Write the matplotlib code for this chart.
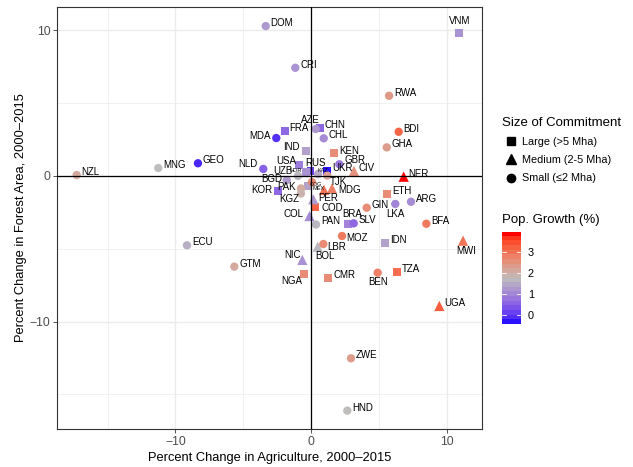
import numpy as np
import matplotlib
matplotlib.use("Agg")
import matplotlib.pyplot as plt
from matplotlib.colors import ListedColormap, Normalize
from matplotlib.lines import Line2D

plt.rcParams['font.family'] = ['Liberation Sans', 'DejaVu Sans']

# values
countries = ['DOM', 'CRI', 'VNM', 'RWA', 'BDI', 'GHA', 'NER', 'FRA', 'AZE', 'CHN',
             'MDA', 'CHL', 'IND', 'KEN', 'GBR', 'CIV', 'USA', 'RUS', 'UKR', 'NLD',
             'UZB', 'BGD', 'KOR', 'PAK', 'KGZ', 'PER', 'COD', 'TJK', 'MDG', 'COL',
             'PAN', 'BRA', 'SLV', 'GIN', 'LKA', 'ARG', 'ETH', 'BFA', 'MWI', 'IDN',
             'MOZ', 'LBR', 'BOL', 'NIC', 'NGA', 'CMR', 'BEN', 'TZA', 'UGA', 'GTM',
             'ECU', 'NZL', 'MNG', 'GEO', 'ZWE', 'HND', 'NOR', 'KAZ', 'COG', 'MEX', '']
agri_change = [-3.34, -1.16, 10.94, 5.76, 6.47, 5.59, 6.84, -1.94, 0.35, 0.64,
               -2.56, 0.94, -0.37, 1.72, 2.09, 3.17, -0.89, -0.04, 1.20, -3.52,
               -0.96, -1.79, -2.41, -0.74, -0.74, 0.17, 0.30, 1.20, 1.55, -0.11,
               0.37, 2.75, 3.15, 4.11, 6.22, 7.38, 5.59, 8.51, 11.22, 5.44,
               2.29, 0.91, 0.49, -0.64, -0.52, 1.28, 4.92, 6.35, 9.47, -5.66,
               -9.15, -17.29, -11.27, -8.34, 2.95, 2.68, -0.37, 0.52, 0.07, -0.22, 0.96]
forest_change = [10.27, 7.41, 9.81, 5.49, 3.02, 1.95, -0.06, 3.09, 3.21, 3.30,
                 2.59, 2.57, 1.72, 1.54, 0.79, 0.33, 0.72, 0.33, 0.33, 0.47,
                 -0.01, -0.29, -1.02, -0.87, -1.21, -1.61, -2.12, 0.02, -0.86, -2.76,
                 -3.34, -3.31, -3.26, -2.19, -1.93, -1.78, -1.23, -3.29, -4.45, -4.63,
                 -4.13, -4.68, -4.86, -5.77, -6.76, -6.99, -6.65, -6.60, -8.93, -6.23,
                 -4.77, 0.05, 0.53, 0.86, -12.52, -16.11, 0.26, 0.12, -0.43, -0.70, -0.97]
commitment = ['Small', 'Small', 'Large', 'Small', 'Small', 'Small', 'Medium', 'Large', 'Small', 'Large',
              'Small', 'Small', 'Large', 'Large', 'Small', 'Medium', 'Large', 'Large', 'Large', 'Small',
              'Small', 'Small', 'Large', 'Small', 'Small', 'Medium', 'Large', 'Small', 'Medium', 'Medium',
              'Small', 'Large', 'Small', 'Small', 'Small', 'Small', 'Large', 'Small', 'Medium', 'Large',
              'Small', 'Small', 'Medium', 'Medium', 'Large', 'Large', 'Small', 'Large', 'Medium', 'Small',
              'Small', 'Small', 'Small', 'Small', 'Small', 'Small', 'Large', 'Small', 'Small', 'Large', 'Medium']
pop_growth = [1.2, 1.1, 1.1, 2.4, 3.2, 2.3, 3.95, 0.5, 1.2, 0.5,
              -0.2, 1.0, 1.3, 2.6, 0.7, 2.5, 0.8, 0.0, -0.46, 0.4,
              1.6, 1.2, 0.5, 2.1, 1.9, 1.2, 3.2, 2.2, 2.8, 1.0,
              1.6, 0.9, 0.5, 2.6, 0.9, 1.0, 2.6, 2.9, 3.0, 1.3,
              2.9, 2.6, 1.6, 1.1, 2.6, 2.6, 2.8, 3.1, 3.3, 2.1,
              1.5, 2.1, 1.7, -0.3, 2.3, 1.7, 1.1, 1.4, 2.6, 1.3, 3.0]

size_levels = ['Large', 'Medium', 'Small']
size_names = ['Large (>5 Mha)', 'Medium (2-5 Mha)', 'Small (\u22642 Mha)']
colorbar_ticks = [0, 1, 2, 3]

# marker style per commitment class
markers = {'Large': ('s', 31), 'Medium': ('^', 55), 'Small': ('o', 36)}

# label placement (pixels): dx, dy, ha, fontsize ; default is right of the point
label_pos = {
    'VNM': (0, 12, 'center', 7), 'AZE': (-5, 9, 'center', 7), 'MDA': (-6, 2, 'right', 7),
    'IND': (-6, 4, 'right', 7), 'USA': (-3, 4, 'right', 7), 'RUS': (-5, 8, 'left', 7),
    'NLD': (-6, 5, 'right', 7), 'UZB': (-5, 5, 'right', 7), 'BGD': (-4, 1, 'right', 7),
    'KOR': (-6, 1, 'right', 7), 'PAK': (-5, 1, 'right', 7), 'KGZ': (-2, -6, 'right', 7),
    'TJK': (3, -6, 'left', 7), 'MDG': (6, -2, 'left', 7), 'COL': (-6, 2, 'right', 7),
    'BRA': (4, 10, 'center', 7), 'LKA': (0, -10, 'center', 7), 'MWI': (3, -10, 'center', 7),
    'BOL': (-2, -9, 'left', 7), 'NIC': (-2, 5, 'right', 7), 'NGA': (-2, -7, 'right', 7),
    'BEN': (0, -9, 'center', 7), 'MOZ': (4, -2, 'left', 7), 'LBR': (4, -3, 'left', 7),
    'PER': (5, 1, 'left', 7), 'COD': (6, -1, 'left', 7), 'GBR': (5, 4, 'left', 7),
    'KEN': (5, 2, 'left', 7),
    'NOR': (-4, 2, 'right', 4), 'KAZ': (-1, 4, 'left', 4), 'COG': (-2, -2, 'left', 4),
    'MEX': (4, -3, 'left', 4),
}


# ggplot style gradient2 (blue - grey - red) interpolated in CIELAB
M = np.array([[0.4124, 0.3576, 0.1805], [0.2126, 0.7152, 0.0722], [0.0193, 0.1192, 0.9505]])
WHITE = np.array([0.95047, 1.0, 1.08883])


def to_lab(rgb):
    rgb = np.asarray(rgb, float)
    lin = np.where(rgb <= 0.04045, rgb / 12.92, ((rgb + 0.055) / 1.055) ** 2.4)
    xyz = M @ lin / WHITE
    f = np.where(xyz > 0.008856, np.cbrt(xyz), 7.787 * xyz + 16 / 116)
    return np.array([116 * f[1] - 16, 500 * (f[0] - f[1]), 200 * (f[1] - f[2])])


def from_lab(lab):
    L, a, b = lab
    fy = (L + 16) / 116
    f = np.array([fy + a / 500, fy, fy - b / 200])
    xyz = np.where(f ** 3 > 0.008856, f ** 3, (f - 16 / 116) / 7.787) * WHITE
    lin = np.linalg.solve(M, xyz)
    lin = np.clip(lin, 0, None)
    rgb = np.where(lin <= 0.0031308, 12.92 * lin, 1.055 * lin ** (1 / 2.4) - 0.055)
    return np.clip(rgb, 0, 1)


low, mid, high = to_lab([0, 0, 1]), to_lab([190 / 255] * 3), to_lab([1, 0, 0])
ramp = []
for t in np.linspace(0, 1, 256):
    if t < 0.5:
        lab = low + (mid - low) * (t / 0.5)
    else:
        lab = mid + (high - mid) * ((t - 0.5) / 0.5)
    ramp.append(from_lab(lab))
cmap = ListedColormap(ramp)

pop = np.array(pop_growth)
midpoint = 1.7
half = max(pop.max() - midpoint, midpoint - pop.min())
norm = Normalize(midpoint - half, midpoint + half)

x = np.array(agri_change)
y = np.array(forest_change)
cls = np.array(commitment)

fig = plt.figure(figsize=(6.33, 4.67), dpi=100)
W, H = 633, 467
ax = fig.add_axes([57.3 / W, 1 - 429 / H, 425 / W, 422.3 / H])

for level in size_levels:
    idx = cls == level
    mk, s = markers[level]
    ax.scatter(x[idx], y[idx], c=pop[idx], cmap=cmap, norm=norm, marker=mk, s=s,
               linewidths=0, zorder=3)

ax.axhline(0, color='black', lw=0.9, zorder=4)
ax.axvline(0, color='black', lw=0.9, zorder=4)

for name, xi, yi in zip(countries, x, y):
    if not name:
        continue
    dx, dy, ha, fs = label_pos.get(name, (5, 3, 'left', 7))
    ax.annotate(name, (xi, yi), xytext=(dx, dy), textcoords='offset pixels',
                ha=ha, va='center', fontsize=fs, color='black', zorder=5)

ax.set_xlim(-18.72, 12.64)
ax.set_ylim(-17.37, 11.6)
ax.set_xticks([-10, 0, 10])
ax.set_xticks([-15, -5, 5], minor=True)
ax.set_yticks([-10, 0, 10])
ax.set_yticks([-15, -5, 5], minor=True)
ax.grid(which='major', color='#EBEBEB', lw=1.0)
ax.grid(which='minor', color='#EBEBEB', lw=0.5)
ax.set_axisbelow(True)
ax.tick_params(which='minor', length=0)
ax.tick_params(which='major', length=3, width=0.6, color='#333333', labelcolor='#4D4D4D',
               labelsize=8.8, pad=2)
for sp in ax.spines.values():
    sp.set_color('#333333')
    sp.set_linewidth(0.8)

ax.set_xlabel('Percent Change in Agriculture, 2000\u20132015', fontsize=9.3, labelpad=3)
ax.set_ylabel('Percent Change in Forest Area, 2000\u20132015', fontsize=9.3, labelpad=2)

# shape legend
handles = [Line2D([], [], marker=markers[l][0], color='black', linestyle='none',
                  markersize=np.sqrt(markers[l][1])) for l in size_levels]
fig.legend(handles, size_names, title='Size of Commitment', loc='upper left',
           bbox_to_anchor=(502 / W, 1 - 117 / H), frameon=False, fontsize=7.8,
           title_fontsize=9.5, handlelength=1.65, handletextpad=0.2, labelspacing=0.75,
           borderpad=0, borderaxespad=0, alignment='left')

# colour bar
lo, hi = pop.min(), pop.max()
cax = fig.add_axes([502 / W, 1 - 324.3 / H, 19 / W, 92.6 / H])
bins = np.linspace(lo, hi, 20)
cax.imshow(bins[:, None], aspect='auto', cmap=cmap, norm=norm, origin='lower',
           extent=[0, 1, lo, hi])
for t in colorbar_ticks:
    cax.plot([0, 0.2], [t, t], color='white', lw=0.6)
    cax.plot([0.8, 1], [t, t], color='white', lw=0.6)
cax.set_xlim(0, 1)
cax.set_ylim(lo, hi)
cax.set_xticks([])
cax.yaxis.tick_right()
cax.set_yticks(colorbar_ticks)
cax.tick_params(length=0, labelsize=7.8, pad=5)
for sp in cax.spines.values():
    sp.set_visible(False)
fig.text(502 / W, 1 - 220 / H, 'Pop. Growth (%)', fontsize=9.5, ha='left', va='center')

fig.savefig('out.png', dpi=100)
